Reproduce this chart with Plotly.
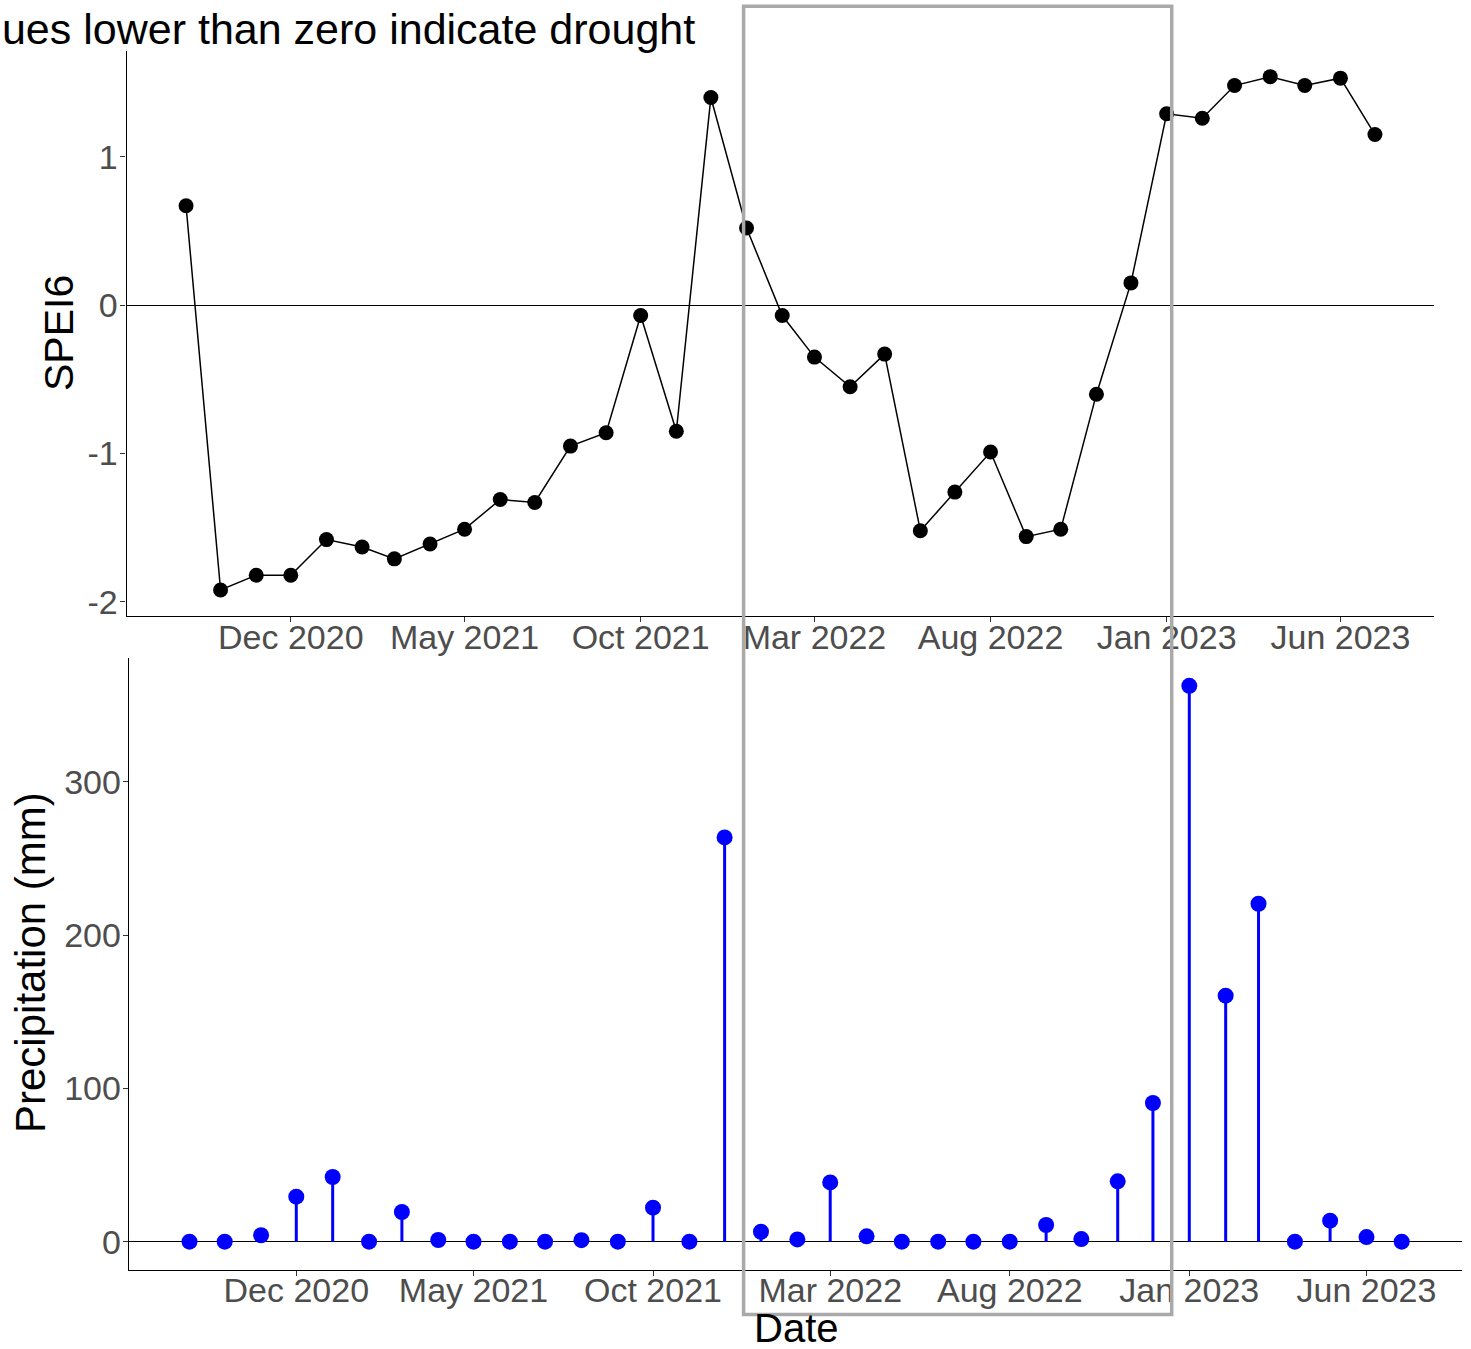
import pandas as pd
import plotly.graph_objects as go

# Monthly series, first day of each month
months = pd.date_range("2020-09-01", "2023-07-01", freq="MS")

spei6 = [0.67, -1.92, -1.82, -1.82, -1.58, -1.63, -1.71, -1.61, -1.51, -1.31,
         -1.33, -0.95, -0.86, -0.07, -0.85, 1.40, 0.52, -0.07, -0.35, -0.55,
         -0.33, -1.52, -1.26, -0.99, -1.56, -1.51, -0.60, 0.15, 1.29, 1.26,
         1.48, 1.54, 1.48, 1.53, 1.15]

precip_mm = [0, 0, 4.2, 29.4, 42.2, 0, 19.4, 1.1, 0, 0,
             0, 1.0, 0, 22.2, 0, 263.8, 6.5, 1.5, 38.7, 3.5,
             0, 0, 0, 0, 10.9, 1.7, 39.4, 90.5, 362.7, 160.5,
             220.5, 0, 13.7, 3.0, 0]

date_ticks = ["2020-12-01", "2021-05-01", "2021-10-01", "2022-03-01",
              "2022-08-01", "2023-01-01", "2023-06-01"]
date_tick_labels = ["Dec 2020", "May 2021", "Oct 2021", "Mar 2022",
                    "Aug 2022", "Jan 2023", "Jun 2023"]
spei_ticks = [-2, -1, 0, 1]
spei_tick_labels = ["-2", "-1", "0", "1"]
precip_ticks = [0, 100, 200, 300]
precip_tick_labels = ["0", "100", "200", "300"]

W, H = 1471, 1349
FONT = "Liberation Sans, Arial, sans-serif"
TICK_GREY = "#4d4d4d"


def expanded(lo, hi, frac=0.05):
    pad = (hi - lo) * frac
    return [lo - pad, hi + pad]


span = months[-1] - months[0]
x_range = [months[0] - span * 0.05, months[-1] + span * 0.05]


def xdom(a, b):
    return [a / W, b / W]


def ydom(top, bottom):
    return [1 - bottom / H, 1 - top / H]


fig = go.Figure()

# SPEI6 line with points
fig.add_trace(go.Scatter(
    x=months, y=spei6, mode="lines+markers",
    line=dict(color="black", width=1.5),
    marker=dict(color="black", size=15),
    xaxis="x", yaxis="y", showlegend=False,
))

# Precipitation lollipops: stems from zero to each monthly total
stem_x, stem_y = [], []
for d, v in zip(months, precip_mm):
    stem_x += [d, d, None]
    stem_y += [0, v, None]
fig.add_trace(go.Scatter(
    x=stem_x, y=stem_y, mode="lines",
    line=dict(color="#0000ff", width=3),
    xaxis="x2", yaxis="y2", showlegend=False, hoverinfo="skip",
))
fig.add_trace(go.Scatter(
    x=months, y=precip_mm, mode="markers",
    marker=dict(color="#0000ff", size=16),
    xaxis="x2", yaxis="y2", showlegend=False,
))

common_x = dict(
    type="date", range=x_range, tickvals=date_ticks, ticktext=date_tick_labels,
    showline=True, linecolor="black", linewidth=1.3, showgrid=False,
    zeroline=False, ticks="outside", ticklen=5, tickwidth=1.3,
    tickcolor="#333333", tickfont=dict(family=FONT, size=34, color=TICK_GREY),
    ticklabelstandoff=-14, automargin=False,
)
common_y = dict(
    showline=True, linecolor="black", linewidth=1.3, showgrid=False,
    zeroline=True, zerolinecolor="black", zerolinewidth=1.3,
    ticks="outside", ticklen=5, tickwidth=1.3, tickcolor="#333333",
    tickfont=dict(family=FONT, size=34, color=TICK_GREY), automargin=False,
)

fig.update_layout(
    width=W, height=H,
    margin=dict(l=0, r=0, t=0, b=0),
    paper_bgcolor="white", plot_bgcolor="white",
    xaxis=dict(common_x, domain=xdom(126.6, 1434.4), anchor="y"),
    yaxis=dict(common_y, domain=ydom(51, 615.7), anchor="x",
               range=expanded(min(spei6), max(spei6)),
               tickvals=spei_ticks, ticktext=spei_tick_labels,
               ticklabelstandoff=-4),
    xaxis2=dict(common_x, domain=xdom(128.9, 1462.3), anchor="y2"),
    yaxis2=dict(common_y, domain=ydom(658, 1269.5), anchor="x2",
                range=expanded(min(precip_mm), max(precip_mm)),
                tickvals=precip_ticks, ticktext=precip_tick_labels,
                ticklabelstandoff=-5),
    annotations=[
        dict(text="Values lower than zero indicate drought", xref="paper",
             yref="paper", x=697 / W, y=1 - 29 / H, xanchor="right",
             yanchor="middle", showarrow=False,
             font=dict(family=FONT, size=43, color="black")),
        dict(text="SPEI6", xref="paper", yref="paper", x=59 / W,
             y=1 - 333 / H, xanchor="center", yanchor="middle",
             textangle=-90, showarrow=False,
             font=dict(family=FONT, size=41, color="black")),
        dict(text="Precipitation (mm)", xref="paper", yref="paper",
             x=30 / W, y=1 - 963 / H, xanchor="center", yanchor="middle",
             textangle=-90, showarrow=False,
             font=dict(family=FONT, size=42, color="black")),
        dict(text="Date", xref="paper", yref="paper", x=796 / W,
             y=0, xanchor="center", yanchor="bottom", yshift=-3,
             showarrow=False,
             font=dict(family=FONT, size=40, color="black")),
    ],
    shapes=[
        dict(type="rect", xref="paper", yref="paper",
             x0=743.6 / W, x1=1171.7 / W, y0=1 - 1314.5 / H, y1=1 - 6.2 / H,
             line=dict(color="#a9a9a9", width=3.5), fillcolor="rgba(0,0,0,0)",
             layer="above"),
    ],
)

fig.write_html("out.html")
